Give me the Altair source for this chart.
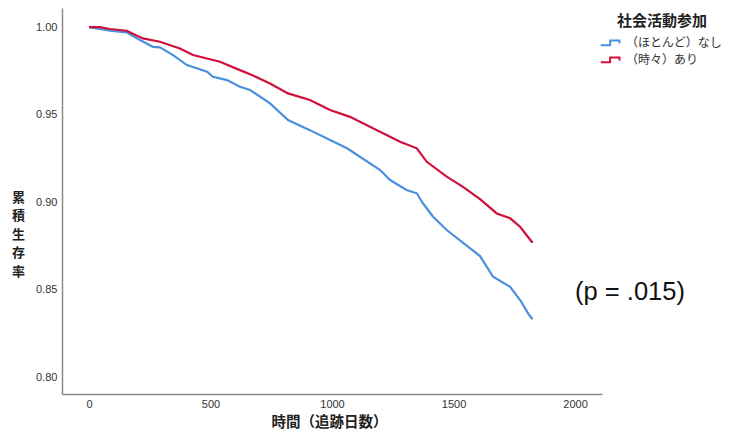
import altair as alt
import pandas as pd

# Kaplan-Meier curves
none_days = [0, 86, 155, 210, 263, 292, 346, 403, 486, 510, 568, 621, 663, 745, 819, 909, 992, 1062, 1198, 1239, 1307, 1349, 1374, 1416, 1472, 1609, 1663, 1733, 1774, 1807, 1822, 1827]
none_surv = [1.000, 0.9979, 0.9970, 0.9926, 0.9887, 0.9884, 0.9840, 0.9783, 0.9745, 0.9716, 0.9697, 0.9659, 0.9640, 0.9564, 0.9469, 0.9411, 0.9354, 0.9307, 0.9183, 0.9126, 0.9069, 0.9050, 0.8993, 0.8916, 0.8840, 0.8691, 0.8573, 0.8516, 0.8440, 0.8364, 0.8335, 0.8335]

some_days = [0, 45, 86, 155, 222, 292, 374, 428, 539, 621, 663, 745, 819, 909, 992, 1074, 1156, 1239, 1280, 1349, 1390, 1472, 1539, 1609, 1678, 1733, 1774, 1822, 1827]
some_surv = [1.000, 1.000, 0.9989, 0.9979, 0.9935, 0.9916, 0.9878, 0.9840, 0.9802, 0.9754, 0.9731, 0.9678, 0.9621, 0.9583, 0.9526, 0.9487, 0.9430, 0.9373, 0.9345, 0.9307, 0.9230, 0.9145, 0.9087, 0.9017, 0.8935, 0.8907, 0.8859, 0.8773, 0.8770]

groups = ["（ほとんど）なし", "（時々）あり"]
colors = ["#4A90DD", "#D0103A"]
x_ticks = [0, 500, 1000, 1500, 2000]
y_ticks = [0.80, 0.85, 0.90, 0.95, 1.00]
p_text = ["(p = .015)"]

rows = []
for i, (d, s) in enumerate(zip(none_days, none_surv)):
    rows.append({"group": groups[0], "day": d, "surv": s, "order": i})
for i, (d, s) in enumerate(zip(some_days, some_surv)):
    rows.append({"group": groups[1], "day": d, "surv": s, "order": i})
df = pd.DataFrame(rows)

FONT = "Liberation Sans"
CJK = "Noto Sans CJK JP"

step_path = "M-1.2,0.25 H-0.1 V-0.3 H1.0 V0.05"

lines = alt.Chart(df).mark_line(strokeWidth=2.2).encode(
    x=alt.X("day:Q", scale=alt.Scale(domain=[-111, 2111], nice=False, zero=False),
            axis=alt.Axis(values=x_ticks, title="時間（追跡日数）", grid=False, ticks=False,
                          labelPadding=4, titleX=267, titleY=28, titleAnchor="middle",
                          titleBaseline="middle", titleFontSize=14.5, format="d")),
    y=alt.Y("surv:Q", scale=alt.Scale(domain=[0.7903, 1.0109], nice=False, zero=False),
            axis=alt.Axis(values=y_ticks, format=".2f", grid=False, ticks=False,
                          labelPadding=5,
                          title=["累", "積", "生", "存", "率"], titleAngle=0,
                          titleX=-44, titleY=189, titleAlign="center",
                          titleBaseline="middle", titleLineHeight=18.5, titleFontSize=13)),
    color=alt.Color("group:N", scale=alt.Scale(domain=groups, range=colors),
                    legend=alt.Legend(title="社会活動参加", orient="none", legendX=539, legendY=6,
                                      titleAnchor="middle", symbolType=step_path,
                                      symbolSize=290, symbolStrokeWidth=2, symbolFillColor="transparent",
                                      rowPadding=0, padding=0, titlePadding=4, labelOffset=5)),
    order="order:Q",
)

ann = alt.Chart(pd.DataFrame({"t": p_text})).mark_text(
    fontSize=25.5, font=FONT, color="#111111", align="center", baseline="middle"
).encode(text="t:N", x=alt.value(568), y=alt.value(284))

chart = alt.layer(lines, ann).properties(
    width=540, height=386,
    autosize=alt.AutoSizeParams(type="none"),
    padding={"left": 54, "top": 0, "right": 120, "bottom": 35},
).configure_view(stroke=None).configure_axis(
    domainColor="#8a8a8a", domainWidth=1.5,
    labelFont=FONT, labelFontSize=11, labelColor="#333333",
    titleFont=CJK, titleFontSize=15, titleFontWeight="bold", titleColor="#222222",
).configure_legend(
    titleFont=CJK, titleFontSize=15, titleFontWeight="bold", titleColor="#222222",
    labelFont=CJK, labelFontSize=12, labelColor="#333333",
)

chart.save("out.html", embed_options={"renderer": "svg", "actions": False})
